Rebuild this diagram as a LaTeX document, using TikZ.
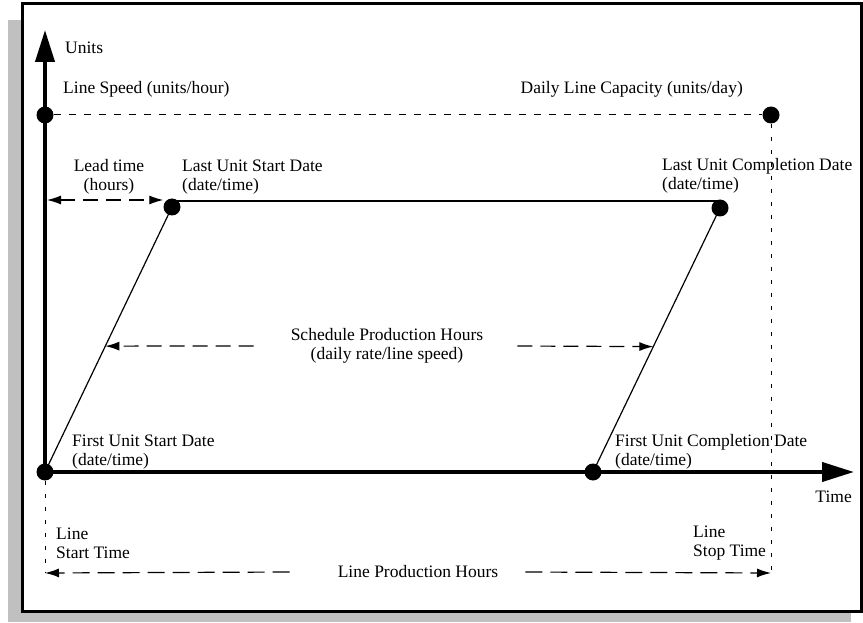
\documentclass[tikz,border=0pt]{standalone}
\usepackage{fontspec}
\setmainfont{Liberation Serif}
\usetikzlibrary{arrows.meta,calc}
\definecolor{shadowgray}{HTML}{C0C0C0}
\begin{document}
\begin{tikzpicture}[x=1pt,y=-1pt,
  lbl/.style={inner sep=0pt, font=\fontsize{17.5}{19}\selectfont, align=left},
  dotnode/.style={circle, fill=black, inner sep=0pt, minimum size=17pt},
  axisline/.style={line width=4pt, -{Triangle[length=32pt,width=19pt]}},
  slim/.style={line width=1.2pt},
  dasharrow/.style={line width=1.2pt, dash pattern=on 15pt off 8pt, -{Latex[length=14pt,width=9pt]}},
  longdash/.style={line width=1.2pt, dash pattern=on 17pt off 8pt, -{Latex[length=14pt,width=9pt]}},
  finedash/.style={line width=1pt, dash pattern=on 7pt off 8pt},
  vdots/.style={line width=1pt, dash pattern=on 4pt off 9pt},
]
\useasboundingbox (0,0) rectangle (863,623);
\fill[shadowgray] (8,20) rectangle (851,622);
\draw[line width=3pt, fill=white] (22,4) rectangle (861,611);

% points
\node[dotnode] (ls) at (45,115) {};
\node[dotnode] (cap) at (771,115) {};
\node[dotnode] (lus) at (172,207) {};
\node[dotnode] (luc) at (720,208) {};
\node[dotnode] (o) at (45,472) {};
\node[dotnode] (fuc) at (593,472) {};
\coordinate (ytip) at (45,30);
\coordinate (xtip) at (854,472);
\coordinate (lpl) at (45,573);
\coordinate (lpr) at (771,573);
\coordinate (leadl) at (47,200);

% axes
\draw[axisline] (o.center) -- (ytip);
\draw[axisline] (o.center) -- (xtip);

% labels
\node[lbl, anchor=west] (units) at (65,48) {Units};
\node[lbl, anchor=west] (lslbl) at (63,89) {Line Speed (units/hour)};
\node[lbl, anchor=east] (caplbl) at (743,89) {Daily Line Capacity (units/day)};
\node[lbl, align=center] (lead) at (109,177) {Lead time\\(hours)};
\node[lbl, anchor=west] (luslbl) at (182,177) {Last Unit Start Date\\(date/time)};
\node[lbl, anchor=west] (luclbl) at (662,176) {Last Unit Completion Date\\(date/time)};
\node[lbl, align=center] (sph) at (387,346) {Schedule Production Hours\\(daily rate/line speed)};
\node[lbl, anchor=west] (fuslbl) at (72,452) {First Unit Start Date\\(date/time)};
\node[lbl, anchor=west] (fuclbl) at (615,452) {First Unit Completion Date\\(date/time)};
\node[lbl, anchor=east] (timelbl) at (852,497) {Time};
\node[lbl, anchor=west] (startlbl) at (56,543) {Line\\Start Time};
\node[lbl, anchor=west] (stoplbl) at (693,543) {Line\\Stop Time};
\node[lbl] (lph) at (418,572) {Line Production Hours};

% lines
\draw[slim] (o.center) -- (lus.center);
\draw[slim] (fuc.center) -- (luc.center);
\draw[slim] ([yshift=6pt]lus.center) -- ([yshift=7pt]luc.center);
\draw[finedash] (ls.east) -- (cap.west);
\draw[vdots] (o.south) -- (lpl);
\draw[vdots] (cap.south) -- (lpr);

% dashed arrows
\draw[dasharrow, {Latex[length=14pt,width=9pt]}-{Latex[length=14pt,width=9pt]}] (leadl) -- ([yshift=7pt]lus.west);
\draw[dasharrow] ([xshift=-37pt]sph.west) -- ($(o)!0.475!(lus)$);
\draw[dasharrow] ([xshift=34pt]sph.east) -- ($(fuc)!0.475!(luc)$);
\draw[longdash] ([xshift=-48pt]lph.west) -- (lpl);
\draw[longdash] ([xshift=27pt]lph.east) -- (lpr);
\end{tikzpicture}
\end{document}
